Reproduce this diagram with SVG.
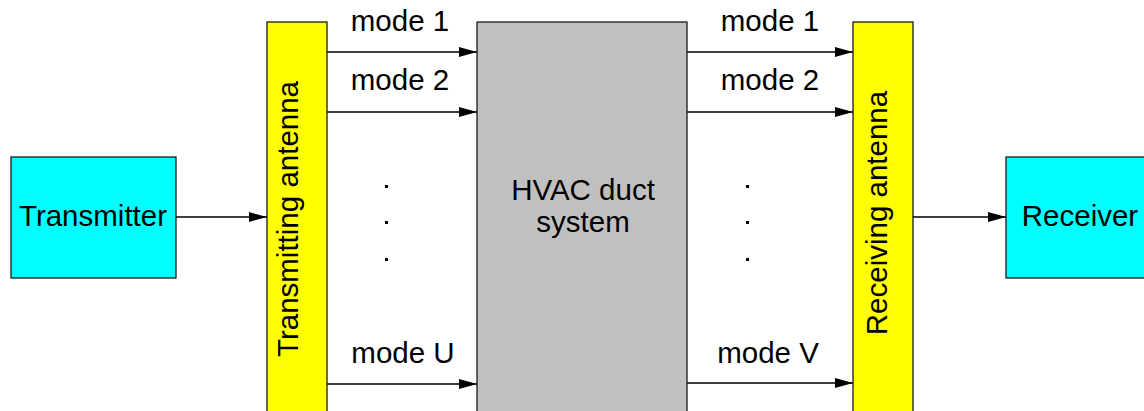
<svg xmlns="http://www.w3.org/2000/svg" width="1144" height="411" viewBox="0 0 1144 411">
<style>
.box{stroke:#1a1a1a;stroke-width:1.3}
.t{font-family:"Liberation Sans",Arial,sans-serif;font-size:29.5px;fill:#000;text-anchor:middle}
.c{stroke:#000;stroke-width:1.5;fill:none;marker-end:url(#ah)}
.dot{fill:#000}
</style>
<defs>
<marker id="ah" markerUnits="userSpaceOnUse" markerWidth="20" markerHeight="12" refX="18" refY="5" orient="auto">
<path d="M0,0 L18,5 L0,10 Z" fill="#000"/>
</marker>
</defs>
<rect width="1144" height="411" fill="#fff"/>
<g id="connectors">
<line class="c" x1="176" y1="217" x2="267" y2="217"/>
<line class="c" x1="327" y1="52" x2="477" y2="52"/>
<line class="c" x1="327" y1="112" x2="477" y2="112"/>
<line class="c" x1="327" y1="384" x2="477" y2="384"/>
<line class="c" x1="687" y1="52" x2="853" y2="52"/>
<line class="c" x1="687" y1="112" x2="853" y2="112"/>
<line class="c" x1="687" y1="383" x2="853" y2="383"/>
<line class="c" x1="913" y1="217" x2="1006" y2="217"/>
<text class="t" x="400" y="31">mode 1</text>
<text class="t" x="400" y="90">mode 2</text>
<text class="t" x="403" y="363">mode U</text>
<text class="t" x="770" y="31">mode 1</text>
<text class="t" x="770" y="90">mode 2</text>
<text class="t" x="768" y="363">mode V</text>
<rect class="dot" x="385" y="185" width="3" height="3"/>
<rect class="dot" x="385" y="221" width="3" height="3"/>
<rect class="dot" x="385" y="258" width="3" height="3"/>
<rect class="dot" x="746" y="185" width="3" height="3"/>
<rect class="dot" x="746" y="221" width="3" height="3"/>
<rect class="dot" x="746" y="258" width="3" height="3"/>
</g>
<g id="transmitter">
<rect class="box" x="11" y="157" width="165" height="121" fill="#00ffff"/>
<text class="t" x="93" y="226">Transmitter</text>
</g>
<g id="tx-antenna">
<rect class="box" x="267" y="22" width="60" height="400" fill="#ffff00"/>
<text class="t" transform="translate(298,219) rotate(-90)">Transmitting antenna</text>
</g>
<g id="hvac">
<rect class="box" x="477" y="22" width="210" height="400" fill="#c0c0c0"/>
<text class="t" x="583" y="200">HVAC duct</text>
<text class="t" x="583" y="232">system</text>
</g>
<g id="rx-antenna">
<rect class="box" x="853" y="22" width="60" height="400" fill="#ffff00"/>
<text class="t" transform="translate(887,213) rotate(-90)">Receiving antenna</text>
</g>
<g id="receiver">
<rect class="box" x="1006" y="157" width="150" height="121" fill="#00ffff"/>
<text class="t" x="1080" y="226">Receiver</text>
</g>
</svg>
